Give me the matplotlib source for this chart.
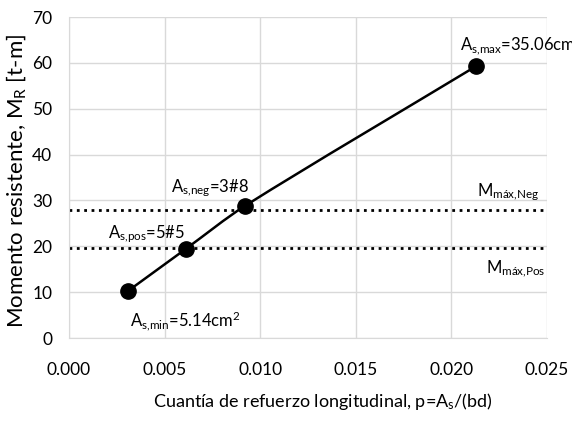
import numpy as np
import matplotlib
matplotlib.use('Agg')
import matplotlib.pyplot as plt
from matplotlib.path import Path
from matplotlib.patches import PathPatch

plt.rcParams['font.family'] = ['Lato', 'DejaVu Sans']
plt.rcParams['mathtext.fontset'] = 'custom'
plt.rcParams['mathtext.rm'] = 'Lato'
plt.rcParams['mathtext.it'] = 'Lato'
plt.rcParams['mathtext.default'] = 'regular'

# cuantía vs momento resistente
cuantia = [0.0031, 0.0061, 0.0092, 0.0213]
momento = [10.3, 19.4, 28.8, 59.3]
etiquetas = ['A$_{s{,}min}$=5.14cm$^2$', 'A$_{s{,}pos}$=5#5',
             'A$_{s{,}neg}$=3#8', 'A$_{s{,}max}$=35.06cm$^2$']

m_max_pos = 19.7
m_max_neg = 28.0

x_ticks = [0.000, 0.005, 0.010, 0.015, 0.020, 0.025]
y_ticks = [0, 10, 20, 30, 40, 50, 60, 70]

XMAX, YMAX = 0.025, 70


def smooth_path(xs, ys, k=0.3):
    # curva suavizada que pasa por los puntos (se calcula en coordenadas
    # normalizadas de los ejes para que las tangentes no se deformen)
    sx, sy = 478 / XMAX, 321 / YMAX
    pts = np.column_stack([np.asarray(xs) * sx, np.asarray(ys) * sy])
    n = len(pts)
    tang = []
    for i in range(n):
        a = pts[max(i - 1, 0)]
        b = pts[min(i + 1, n - 1)]
        d = b - a
        tang.append(d / np.hypot(*d))
    verts = [pts[0]]
    codes = [Path.MOVETO]
    for i in range(n - 1):
        L = np.hypot(*(pts[i + 1] - pts[i]))
        c1 = pts[i] + tang[i] * L * k
        c2 = pts[i + 1] - tang[i + 1] * L * k
        verts += [c1, c2, pts[i + 1]]
        codes += [Path.CURVE4] * 3
    verts = np.array(verts) / [sx, sy]
    return Path(verts, codes)


fig = plt.figure(figsize=(5.72, 4.21), dpi=100)
ax = fig.add_axes([0.1206, 0.1971, 0.8357, 0.7625])

ax.set_xlim(0, XMAX)
ax.set_ylim(0, YMAX)
ax.set_xticks(x_ticks)
ax.set_yticks(y_ticks)
ax.set_xticklabels([f'{v:.3f}' for v in x_ticks])
ax.tick_params(length=0, labelsize=12.5)
ax.tick_params(axis='x', pad=17)
ax.tick_params(axis='y', pad=12)
ax.grid(color='#d9d9d9', linewidth=1)
ax.set_axisbelow(True)
for s in ['top', 'right']:
    ax.spines[s].set_visible(False)
for s in ['left', 'bottom']:
    ax.spines[s].set_color('#d9d9d9')

ax.axhline(m_max_neg, color='black', linestyle=':', linewidth=2)
ax.axhline(m_max_pos, color='black', linestyle=':', linewidth=2)

ax.add_patch(PathPatch(smooth_path(cuantia, momento), facecolor='none',
                       edgecolor='black', linewidth=1.8, zorder=3))
ax.plot(cuantia, momento, 'o', color='black', markersize=11, zorder=4)

ax.annotate(etiquetas[0], (cuantia[0], momento[0]), xytext=(1, -22),
            textcoords='offset points', fontsize=12, ha='left', va='center')
ax.annotate(etiquetas[1], (cuantia[1], momento[1]), xytext=(0, 11),
            textcoords='offset points', fontsize=12, ha='right', va='center')
ax.annotate(etiquetas[2], (cuantia[2], momento[2]), xytext=(3, 13),
            textcoords='offset points', fontsize=12, ha='right', va='center')
ax.annotate(etiquetas[3], (cuantia[3], momento[3]), xytext=(-12, 15),
            textcoords='offset points', fontsize=12, ha='left', va='center',
            annotation_clip=False)

ax.text(0.0246, m_max_neg + 1.4, 'M$_{máx{,}Neg}$', fontsize=12,
        ha='right', va='bottom')
ax.text(0.0249, m_max_pos - 2.2, 'M$_{máx{,}Pos}$', fontsize=12,
        ha='right', va='top')

ax.set_xlabel('Cuantía de refuerzo longitudinal, p=A$_s$/(bd)', fontsize=13)
ax.xaxis.set_label_coords(0.531, -0.165)
ax.set_ylabel('Momento resistente, M$_R$ [t-m]', fontsize=16)
ax.yaxis.set_label_coords(-0.086, 0.489)

fig.savefig('out.png', dpi=100)
